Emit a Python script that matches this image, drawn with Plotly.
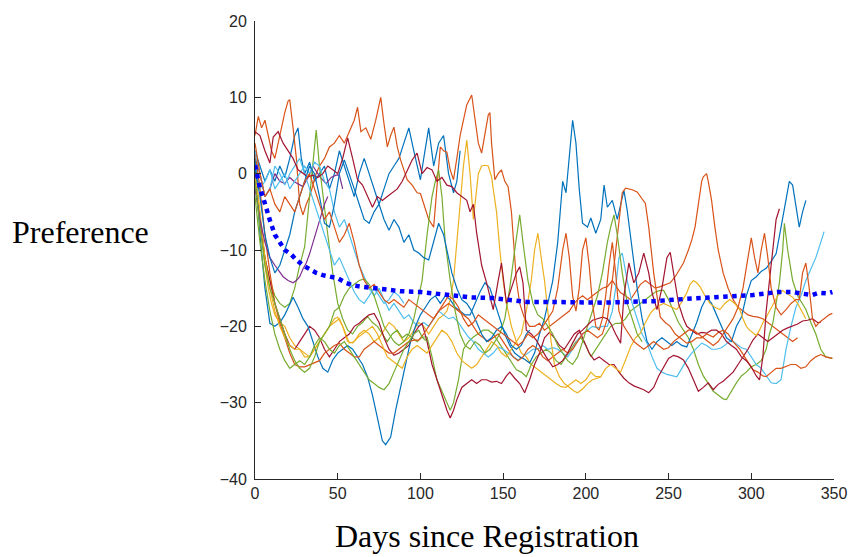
import plotly.graph_objects as go

# MATLAB-style default line colour order
C_BLUE, C_ORANGE, C_YELLOW = "#0072BD", "#D95319", "#EDB120"
C_PURPLE, C_GREEN, C_CYAN, C_MAROON = "#7E2F8E", "#77AC30", "#4DBEEE", "#A2142F"

x_ticks = [0, 50, 100, 150, 200, 250, 300, 350]
y_ticks = [-40, -30, -20, -10, 0, 10, 20]

# Per-user preference trajectories: (day since registration, preference)
user_b1 = [(0, 3), (3, 1), (6, -1), (9, 0.5), (12, -1), (15, 1), (18, -0.5), (21, 2), (24, 5), (26, 6),
           (28, 2), (30, 0), (33, 1.5), (36, -1), (39, 0), (42, 1), (45, -2), (48, 0), (51, 3), (54, 1),
           (57, -1), (60, -3), (63, 0), (66, 2), (69, 0), (72, -2), (75, -4), (78, -2), (81, 0), (84, 1),
           (87, 2), (90, 4), (93, 6), (96, 3), (99, 0), (100, -0.8), (102, 2), (105, 6), (108, 1), (111, 4),
           (114, 5), (117, 0), (120, -2.5), (122, -1), (124, 3)]

user_b2 = [(0, 2), (3, -8), (6, -15), (9, -19.6), (12, -20), (15, -19.5), (18, -18.5), (21, -17), (23, -16.2),
           (26, -17.5), (29, -19), (32, -20), (35, -22), (38, -24), (41, -25.5), (44, -26), (47, -24.4), (50, -23.5),
           (53, -23), (56, -22.5), (59, -23), (62, -24), (65, -25), (68, -26.6), (71, -29), (74, -32), (77, -35),
           (79, -35.5), (82, -34.5), (85, -31), (88, -28), (91, -25), (94, -22), (97, -20), (100, -18.5),
           (103, -17.5), (106, -16.5), (109, -16), (112, -17), (115, -16), (118, -16.5), (121, -17.5), (124, -18),
           (127, -18.5), (130, -18.5), (133, -17), (136, -15.5), (139, -14.3), (142, -15), (145, -17), (148, -19),
           (151, -21), (154, -22.5), (157, -23.5), (160, -24), (163, -24.3), (166, -24.8), (169, -23.5), (172, -21),
           (175, -19), (178, -16), (180, -14), (183, -9), (186, -1), (188, -2.5), (190, 2), (192, 7), (194, 4),
           (196, -2), (198, -6.5), (201, -7), (203, -5.8), (206, -7.8), (209, -6), (211, -1.5), (213, -4.4),
           (216, -3.5), (219, -6), (222, -3), (223, -2.2), (225, -4.8), (228, -10), (231, -15), (234, -19),
           (237, -22), (240, -23), (243, -22), (246, -21.5), (249, -22), (252, -22.5), (255, -22), (258, -22.5),
           (261, -22.7), (264, -21), (267, -19.5), (270, -17.5), (273, -16.2), (276, -17), (279, -18.5), (282, -20),
           (285, -21.5), (288, -22), (291, -20), (294, -18.8), (297, -16), (300, -14), (303, -13.5), (306, -12.8),
           (309, -12.4), (312, -11.5), (315, -10.5), (318, -7), (321, -3.5), (323, -1), (325, -1.5), (327, -4),
           (329, -7), (331, -5), (333, -3.5)]

user_b3 = [(0, 1), (3, -3), (6, -8), (9, -11), (12, -13), (15, -12), (18, -10), (21, -8), (24, -5), (27, -3),
           (30, -1), (33, 1), (36, 0), (39, -3), (42, -6.5), (45, -7), (48, -4), (51, 0), (54, 1.8), (57, 0),
           (60, -2), (63, -4), (66, -6), (69, -6.5), (72, -5), (75, -4), (78, -6), (81, -7.4), (84, -6), (87, -7),
           (90, -9), (93, -8), (96, -10), (99, -10.4), (102, -11), (105, -11.3), (108, -9), (111, -6.5), (114, -8),
           (116, -10), (119, -13), (122, -15), (125, -16.5), (128, -17), (131, -18), (134, -19.5), (137, -21),
           (140, -22), (143, -21.5), (146, -20.5), (149, -20), (152, -21), (155, -22.5), (158, -23), (161, -22.5),
           (164, -21), (166, -20.5)]

user_o1 = [(0, 5), (2, 7.5), (4, 6), (6, 7), (8, 5), (10, 3), (12, 2), (14, 4), (16, 6), (18, 8), (20, 9.5),
           (21, 9.7), (23, 6), (25, 2), (27, -4), (29, -5.4), (31, -4), (33, -3), (35, -1.5), (37, 0), (39, 1),
           (42, 2), (45, 3.5), (48, 4), (51, 5), (54, 4), (57, 5.5), (60, 7), (62, 8.7), (64, 5.5), (67, 6),
           (70, 4.5), (73, 7), (75, 9), (76, 10), (78, 6.5), (80, 3.5), (82, 5), (84, 6.1), (86, 3.5), (88, 1.8),
           (90, 0.5), (92, -0.8), (95, -1.5), (98, -2.5), (100, -2.6), (102, -4), (105, -6), (108, -7), (110, -2),
           (112, 3.5), (114, 3), (116, 2.8), (118, 0.5), (120, -0.8), (122, 2), (124, 5), (126, 7), (128, 9),
           (131, 10.3), (133, 7), (135, 4), (137, 2.7), (139, 5), (141, 7.7), (142, 8), (143, 4), (145, -0.8),
           (147, 0), (149, 0.5), (151, -1), (153, -1.7), (155, -5), (158, -14), (160, -17), (163, -19), (166, -20),
           (169, -20), (172, -19.6), (175, -20.5), (178, -20), (181, -19.5), (184, -19), (187, -18.5), (190, -18),
           (193, -17), (195, -16.5), (198, -16), (201, -16.5), (204, -16), (207, -15.5), (210, -15), (213, -14.8),
           (216, -14), (219, -15), (221, -15.6), (224, -16), (227, -16.5), (230, -15.5), (233, -14.5), (236, -14),
           (239, -14.5), (242, -15), (245, -14.8), (248, -14.5), (251, -14.3), (254, -13.5), (257, -12.5),
           (259, -11.7), (262, -10), (264, -8.7), (266, -7), (268, -4), (270, -1), (271, -0.4), (273, 0), (274, -1),
           (276, -3.5), (278, -7), (280, -10), (283, -13), (286, -15), (289, -16.5), (292, -17.5), (295, -18),
           (298, -18.5), (301, -18.7), (304, -18.8), (307, -19), (310, -19.5), (313, -20), (316, -20.5), (319, -21),
           (322, -21.5), (325, -22), (328, -21.5)]

user_o2 = [(0, 3), (3, -2), (6, -8), (9, -13), (12, -17), (15, -19.6), (18, -21.5), (21, -23.5), (24, -25),
           (27, -25.3), (30, -25.3), (33, -25), (36, -24.8), (39, -24.5), (42, -23.5), (45, -23), (48, -22.5),
           (51, -22.2), (54, -23), (57, -23.5), (60, -24), (63, -24), (66, -23), (69, -22.5), (72, -22), (75, -22.5),
           (78, -23), (81, -23.5), (84, -23.5), (87, -23), (90, -22.5), (93, -22), (96, -21.8), (99, -21.8),
           (102, -21), (105, -20), (108, -19), (111, -18), (114, -17.5), (117, -17), (120, -17.5), (123, -18),
           (126, -18.5), (129, -19), (132, -20), (135, -21), (138, -21.5), (141, -22), (144, -21.5), (147, -21),
           (150, -22), (153, -23), (156, -24), (159, -24.5), (162, -24), (165, -23), (168, -22.5), (171, -23),
           (174, -24), (177, -24.5), (180, -24), (183, -23.5), (186, -23), (189, -23.5), (192, -23), (195, -22),
           (198, -21), (201, -20.5), (204, -21), (207, -21.5), (210, -21), (213, -19), (216, -14), (218, -10),
           (220, -6), (222, -2.5), (224, -1.9), (226, -2), (228, -2.1), (231, -2.4), (233, -3), (235, -3.5),
           (236, -3.9), (238, -7), (239, -9), (241, -13), (243, -16), (245, -18.8), (248, -19.5), (251, -20),
           (254, -21), (257, -21.5), (261, -22.2), (264, -22), (267, -21.5), (270, -21.5), (273, -21), (277, -21.4),
           (280, -20.8), (283, -20.5), (286, -21), (289, -22), (293, -23), (296, -24), (299, -25), (301, -25.7),
           (304, -26), (307, -26.5), (309, -26.6), (312, -26), (315, -25.5), (318, -25.5), (321, -25.3), (324, -25),
           (327, -25), (330, -25.5), (333, -25.3), (336, -24.5), (339, -24), (342, -23.7), (345, -24), (349, -24.2)]

user_o3 = [(0, 4), (3, 0), (6, -3), (9, -2), (12, -4), (15, -5), (18, -3), (21, -4), (24, -5), (27, -3), (30, -1),
           (33, 0), (36, -2), (39, -4), (42, -6), (45, -5), (48, -7), (51, -9), (54, -8), (57, -6.5), (60, -9),
           (63, -12), (66, -14), (69, -15), (72, -14.5), (75, -15.5), (78, -16.5), (81, -17), (84, -16.5), (87, -17),
           (90, -17.5), (93, -16.5), (96, -17), (99, -17.4), (102, -18), (105, -18.5), (108, -19), (111, -18),
           (114, -17), (117, -16), (120, -16.5), (123, -17.5), (126, -19), (129, -20), (132, -19.5), (135, -18.5),
           (138, -19), (141, -19.5), (144, -20), (147, -20.5), (150, -21), (153, -21.5), (156, -22), (159, -22.5),
           (162, -22), (165, -21), (168, -21.5), (171, -21), (174, -20), (177, -19), (180, -18), (183, -15),
           (186, -10), (188, -7.8), (190, -11), (192, -16), (194, -18), (196, -15), (198, -10), (200, -8.4),
           (202, -12), (204, -17), (206, -20), (208, -20.5), (210, -19), (212, -16), (214, -12), (216, -9), (218, -13),
           (220, -18), (223, -20), (226, -21), (229, -22), (232, -22.5), (235, -23), (238, -22.5), (241, -22),
           (244, -22.5), (247, -23), (250, -22.8), (253, -22), (256, -21.5), (259, -21), (262, -20.5), (265, -20.5),
           (268, -21), (271, -21.5), (274, -22), (277, -22.5), (280, -22), (283, -21), (286, -20), (289, -19),
           (292, -17.5), (295, -15), (298, -11), (300, -8.4), (302, -11), (304, -13), (306, -10), (308, -7.8),
           (310, -11), (312, -15), (315, -17.5), (318, -18.5), (321, -17.8), (324, -17), (327, -16.5), (329, -16.5),
           (331, -13), (333, -11.7), (335, -15), (337, -19), (339, -20), (341, -19.5), (344, -19), (347, -18.5),
           (349, -18.3)]

user_y1 = [(0, 1), (2, -3), (4, -8), (6, -12), (8, -15), (10, -17), (12, -18.5), (15, -19.5), (18, -20),
           (21, -21.5), (24, -22.5), (27, -23), (30, -23.5), (33, -24), (36, -23), (39, -22), (42, -21), (45, -20),
           (48, -19.5), (51, -19), (54, -20.5), (57, -22.2), (60, -22), (63, -21), (66, -20.5), (69, -21), (72, -22),
           (75, -21.5), (78, -20.5), (81, -19.5), (84, -20), (87, -21), (90, -22), (93, -21.5), (96, -20.5),
           (99, -19.5), (102, -20), (105, -21), (108, -20), (111, -19), (114, -18.5), (116, -18), (118, -16.5),
           (120, -14), (122, -9), (124, -4), (126, 1), (128, 4.4), (130, 0), (132, -6), (134, -2), (135, 0),
           (137, 1), (139, 1.1), (141, 1), (143, -0.4), (144, -2), (146, -5), (148, -10), (150, -14), (152, -17),
           (155, -20), (158, -22), (161, -23.5), (164, -24), (167, -25), (170, -25.5), (173, -26), (176, -26.6),
           (179, -27), (182, -27.5), (185, -27.9), (188, -28), (191, -27.5), (194, -27), (197, -27.5), (200, -27),
           (203, -26), (206, -26.6), (209, -26.6)]

user_y2 = [(0, 0), (3, -5), (6, -11), (9, -15), (12, -18), (15, -20), (18, -21.5), (21, -22.5), (24, -23),
           (27, -23), (30, -24), (33, -24), (36, -23), (39, -22), (42, -21), (45, -20), (48, -19), (50, -18.8),
           (53, -20), (56, -22), (59, -22.2), (62, -21.5), (65, -21), (68, -20.5), (71, -20), (74, -21), (77, -22.5),
           (80, -24), (83, -24.5), (86, -25), (89, -25.5), (92, -24), (95, -23), (98, -22.5), (101, -23),
           (104, -23.5), (107, -22.5), (110, -21.5), (113, -20.5), (116, -21), (119, -22), (122, -23.5), (125, -24.5),
           (128, -25), (131, -25.5), (134, -25), (137, -24), (140, -23), (143, -22), (146, -22.5), (149, -23.5),
           (152, -24), (155, -23), (158, -22), (161, -21), (164, -18), (167, -14), (169, -10), (171, -7.8),
           (173, -11), (175, -14), (177, -18), (179, -22), (181, -25), (184, -26.6), (187, -27.5), (190, -28),
           (193, -28.5), (195, -28.7), (198, -28.2), (201, -27.5), (204, -27), (207, -26.8), (209, -26.6),
           (212, -25.5), (215, -25), (218, -25.5), (221, -26), (224, -24.4), (227, -22.7), (230, -21.5),
           (233, -20.9), (236, -19.5), (239, -18.3), (241, -17.8), (244, -17.3), (247, -17), (250, -17.3),
           (253, -17.6), (255, -17.8), (258, -16.8), (261, -15.6), (263, -14.5), (265, -14), (267, -14.3),
           (269, -14.8), (272, -16), (275, -17), (278, -17.5), (281, -17.8), (284, -17), (287, -16.5), (290, -17),
           (293, -17.8), (295, -19), (297, -20), (299, -20.5), (301, -20.9), (303, -21.2), (305, -20.5),
           (307, -19.5), (309, -18.8), (311, -18), (313, -17), (316, -16), (319, -15.3), (322, -15.8), (325, -16.2),
           (328, -17), (331, -18.3), (333, -19)]

user_p1 = [(0, 2), (3, 0), (6, -3), (9, -2), (12, 0), (15, -1), (18, -1.3), (21, -0.5), (24, -1.1), (27, -1.5),
           (29, -1.7), (32, -0.5), (35, 1), (38, 0), (40, -0.6), (43, -1.3), (46, -0.5), (49, -0.2), (51, -0.2),
           (53, -2)]

user_p2 = [(0, -2), (3, -6), (6, -9), (9, -11), (12, -12), (15, -13), (17, -13.5), (20, -14), (23, -14.3),
           (25, -14), (27, -13.5), (29, -12.5), (31, -11.7), (33, -10.5), (35, -9), (38, -7), (40, -5.6), (42, -4),
           (44, -3)]

user_g1 = [(0, 0), (3, -6), (6, -11), (9, -14), (12, -16), (15, -17), (18, -17.5), (21, -17), (24, -15),
           (27, -12), (30, -9.6), (33, -3), (35, 2), (37, 5.7), (39, 0.9), (41, -3), (44, -8), (47, -13), (50, -17),
           (53, -19), (56, -20.5), (59, -21), (62, -20), (65, -19.5), (68, -18.7), (71, -19.5), (74, -20), (77, -21),
           (80, -22), (83, -21), (86, -20.5), (89, -21.5), (92, -21), (95, -21.5), (98, -22), (101, -21.4),
           (104, -21.4), (107, -24), (110, -27), (113, -28.5), (116, -30), (118, -31), (120, -30), (123, -27),
           (126, -23), (129, -22), (132, -21.4), (135, -21), (138, -20.5), (141, -20.5), (144, -21), (147, -22),
           (150, -23), (153, -24), (156, -25), (158, -25.7), (161, -26), (164, -26.6), (167, -25), (170, -24),
           (173, -23.5), (176, -23), (179, -23.5), (182, -24.5), (185, -25), (188, -24), (191, -23), (194, -22),
           (197, -21.5), (200, -22.5), (203, -24), (206, -23), (209, -22), (212, -21), (215, -20), (218, -19.6),
           (221, -19.6), (224, -19), (227, -18), (230, -17.5), (233, -17), (236, -16.5), (239, -16), (242, -15.5),
           (245, -15.3), (247, -15.3), (250, -16.5), (253, -18), (256, -19.5), (259, -20.5), (262, -21.5),
           (265, -23), (268, -25), (271, -26.5), (274, -27.5), (277, -28.5), (280, -29), (283, -29.5), (285, -29.6),
           (288, -28.5), (291, -27.4), (294, -26.5), (297, -26), (300, -25.3), (303, -25), (306, -24.5), (309, -23),
           (311, -21), (313, -19.6), (315, -17), (317, -14.3), (319, -10), (320, -6.5), (322, -10), (325, -14),
           (328, -16), (331, -17), (333, -17.8), (336, -19.5), (339, -21), (342, -23), (345, -24), (349, -24.2)]

user_g2 = [(0, -1), (3, -7), (6, -12), (9, -15), (12, -17), (15, -19), (18, -21), (21, -23), (24, -24.5),
           (27, -25.5), (30, -26), (33, -25.5), (36, -24), (39, -22), (42, -21), (45, -20), (48, -18), (51, -17.5),
           (54, -16), (57, -15), (60, -14.5), (63, -14), (66, -13.8), (69, -14.5), (72, -16), (75, -18), (78, -20),
           (81, -21), (84, -22), (87, -22.5), (90, -22), (93, -21), (96, -19), (99, -16), (101, -14), (104, -8),
           (107, -3), (109, -1), (111, 0.5), (113, -3), (115, -9), (118, -14), (121, -18), (124, -21), (127, -22.5),
           (130, -23), (133, -22), (136, -22.5), (139, -23.5), (142, -23), (145, -22), (148, -21), (151, -19),
           (154, -15), (157, -10), (160, -5.4), (162, -9), (165, -14), (168, -17), (171, -18.5), (174, -19),
           (177, -20), (180, -21), (183, -22.5), (186, -23.5), (189, -24.5), (192, -25), (195, -24), (198, -22),
           (201, -20), (204, -18), (207, -16), (210, -13), (213, -9), (215, -7), (217, -5.4), (219, -8), (222, -13),
           (225, -17), (228, -19), (231, -21), (234, -22)]

user_g3 = [(0, -3), (3, -9), (6, -14), (9, -18), (12, -21), (15, -23), (18, -24.5), (21, -25.5), (24, -25),
           (27, -24.5), (30, -25), (33, -24), (36, -22.5), (39, -21.5), (42, -22), (45, -23), (48, -23.5),
           (51, -22.5), (54, -22), (57, -23), (60, -24), (63, -25), (66, -26), (69, -27), (72, -27.5), (75, -28),
           (78, -28.3), (81, -27.5), (84, -26), (87, -24.5), (90, -23), (93, -22), (96, -21), (99, -20.5),
           (101, -21.4), (104, -22)]

user_c1 = [(0, 2), (3, -2), (6, -1), (9, 0.5), (12, -2), (15, -1), (18, 0), (21, -2), (24, -1), (27, 0), (30, 1),
           (33, 0), (36, 1.5), (39, 1), (42, -1), (45, -2), (48, -5), (51, -7), (54, -6), (57, -8), (60, -10),
           (63, -12), (66, -13.5), (69, -15), (72, -16), (75, -15), (78, -16.5), (81, -17.9), (84, -17), (87, -18),
           (90, -19), (93, -18.5), (96, -19.5), (99, -20), (102, -19.5), (105, -20), (108, -19), (111, -18),
           (114, -18.5), (117, -19), (120, -18.8), (123, -19.5), (126, -20.5), (129, -21.4), (132, -22), (135, -23),
           (138, -23.5), (141, -24), (144, -23.5), (147, -22.7), (150, -23), (153, -23.5), (156, -24), (159, -24.4),
           (162, -24), (165, -23.5), (168, -23), (171, -23), (174, -22.5), (177, -23), (180, -22.8), (183, -23),
           (186, -23.5), (189, -24), (192, -23), (195, -21.8), (198, -21), (201, -20.5), (204, -20), (207, -20.2),
           (210, -20), (213, -20), (216, -18), (218, -15), (220, -11), (222, -10.4), (225, -14), (228, -17),
           (231, -19), (234, -21), (237, -22.2), (240, -24), (243, -25.5), (246, -26), (249, -26.3), (252, -26.5),
           (255, -26.6), (258, -25.5), (261, -24.4), (264, -23.5), (267, -22.8), (270, -22.2), (273, -22.5),
           (276, -23), (279, -23), (282, -22.8), (285, -22.3), (288, -21.8), (291, -22.3), (294, -22.8), (297, -23),
           (300, -24), (303, -25), (306, -25.5), (309, -26.5), (312, -27.4), (315, -27.5), (318, -27), (321, -23),
           (324, -20), (327, -17.5), (330, -16), (333, -14), (336, -12.5), (339, -11), (342, -9), (344, -7.6)]

user_c2 = [(0, 3), (3, 0), (6, -3), (9, -2), (12, 1), (15, 0), (18, -1.5), (21, 0), (24, 1), (27, 2), (30, 0),
           (33, -2), (36, -4), (39, -6), (42, -8), (45, -10), (48, -12), (51, -11), (54, -12.5), (57, -14),
           (60, -15.5), (63, -16.5), (66, -17), (69, -16), (72, -15), (75, -16), (78, -17), (81, -16.5), (84, -15.5),
           (87, -16), (90, -17)]

user_m1 = [(0, -1), (3, -6), (6, -11), (9, -14), (12, -17), (15, -19), (18, -21), (21, -22.5), (24, -23),
           (27, -22), (30, -21), (33, -20), (36, -20.5), (39, -21.5), (42, -23), (45, -24), (48, -23), (51, -22),
           (54, -21.5), (57, -21), (60, -20), (63, -19.6), (66, -19), (69, -18.5), (72, -18.3), (75, -19.5),
           (78, -21.5), (81, -23), (84, -23.8), (87, -23.5), (90, -23), (93, -22.5), (96, -21), (99, -20),
           (101, -19.6), (104, -22), (107, -25), (110, -27), (113, -29), (116, -31), (118, -32), (120, -31),
           (122, -29.6), (125, -28), (128, -27.5), (131, -27), (134, -27.5), (137, -27), (140, -27), (143, -27.3),
           (146, -27.2), (149, -27.5), (152, -26.5), (154, -26), (157, -26.8), (160, -27.5), (163, -28.7),
           (166, -27), (169, -25), (172, -23.5), (175, -21.5), (178, -20.8), (181, -21.5), (184, -22.5), (187, -23),
           (190, -22), (193, -21), (196, -20.5), (199, -22), (202, -23.5), (205, -24.4), (208, -24), (211, -24.5),
           (214, -25), (217, -25), (220, -26), (223, -26.8), (226, -27.4), (229, -27.8), (232, -28), (235, -28.3),
           (238, -28.7), (241, -28), (244, -26.5), (247, -25.3), (250, -24.2), (253, -23.8), (256, -24),
           (259, -24.4), (262, -25.5), (265, -27), (268, -28.5), (271, -28), (274, -27.4), (277, -28.3),
           (280, -27.6), (283, -27.2), (286, -26.6), (289, -26), (292, -25), (295, -24), (298, -23), (301, -21.8),
           (304, -21), (307, -21.5), (310, -22), (313, -21.5), (316, -21), (319, -20.5), (322, -20.2), (325, -20),
           (328, -19.7), (331, -19.3), (334, -19.2), (337, -19), (340, -19.5), (342, -19.5)]

user_m2 = [(0, 5.5), (3, 5), (6, 3), (9, 1.4), (11, 4.8), (14, 5.5), (17, 4), (20, 3), (23, 2), (26, 0.5), (29, 0),
           (32, -0.4), (35, -0.2), (38, -0.5), (41, 0), (44, 1), (47, 0.5), (50, 0), (53, 2), (56, 4.7), (59, 2),
           (62, -0.8), (65, -1.5), (68, -3), (71, -4.4), (74, -3), (77, -3.5), (80, -3), (83, -2.5), (86, -2),
           (89, -1), (92, 0.5), (95, 1.8), (98, 2.7), (101, 0), (104, 0.8), (107, 0.5), (110, -1), (113, -0.5),
           (116, -1.5), (119, -1.7), (122, -2.5), (125, -3), (128, -3.5), (130, -5), (132, -4), (134, -7.8),
           (137, -12), (140, -14.3), (144, -17.8), (147, -14), (149, -11.7), (152, -17), (155, -15), (158, -13),
           (160, -12.2), (162, -14.3), (164, -20.5), (167, -21), (170, -21.8), (173, -23), (176, -24), (180, -25.3),
           (183, -25), (186, -24.5), (189, -23.5), (192, -22.2), (195, -21), (198, -20.5), (201, -19.8),
           (204, -19.2), (207, -19), (210, -18.8), (213, -19), (215, -19.6), (218, -21), (221, -22.2), (223, -16),
           (226, -11.7), (229, -14.3), (232, -13), (235, -10.4), (238, -13), (240, -15.6), (243, -17.8), (246, -15),
           (249, -11), (251, -10.3), (254, -14), (256, -17), (259, -19), (261, -20), (264, -20.5), (267, -21),
           (270, -20.8), (273, -20.9), (276, -20.5), (279, -20.5), (282, -21), (285, -22), (288, -22.5), (291, -23),
           (294, -24), (297, -24.5), (300, -25.3), (303, -26.5), (305, -27), (307, -24), (309, -18), (311, -14),
           (313, -10.4), (315, -6), (317, -4.6)]

# Average preference across all users
mean_days = [0, 1, 3, 5, 7, 9, 12, 15, 18, 22, 25, 29, 32, 37, 41, 46, 50, 55, 59, 64, 73, 76, 88, 100, 104,
             118, 130, 144, 154, 164, 176, 190, 210, 225, 241, 261, 281, 301, 316, 325, 330, 337, 341, 346, 349]
mean_pref = [1.1, 0.1, -1.9, -3.2, -4.8, -6.1, -8.0, -9.1, -10.0, -10.6, -11.3, -12.0, -12.4, -13.0, -13.3,
             -13.5, -13.7, -14.3, -14.6, -14.8, -15.0, -15.0, -15.4, -15.5, -15.6, -15.9, -16.2, -16.3, -16.6,
             -16.8, -16.8, -16.9, -16.9, -16.8, -16.7, -16.4, -16.1, -15.9, -15.5, -15.5, -15.7, -15.9, -15.6,
             -15.7, -15.5]

users = [
    (user_b1, C_BLUE), (user_o1, C_ORANGE), (user_y1, C_YELLOW), (user_p1, C_PURPLE), (user_g1, C_GREEN),
    (user_c1, C_CYAN), (user_m1, C_MAROON), (user_b2, C_BLUE), (user_o2, C_ORANGE), (user_y2, C_YELLOW),
    (user_p2, C_PURPLE), (user_g2, C_GREEN), (user_c2, C_CYAN), (user_m2, C_MAROON), (user_b3, C_BLUE),
    (user_o3, C_ORANGE), (user_g3, C_GREEN),
]

fig = go.Figure()
for series, color in users:
    fig.add_trace(go.Scatter(
        x=[d for d, _ in series], y=[v for _, v in series], mode="lines",
        line=dict(color=color, width=1.2), showlegend=False, hoverinfo="skip",
    ))

fig.add_trace(go.Scatter(
    x=mean_days, y=mean_pref, mode="lines",
    line=dict(color="#0000FF", width=4.5, dash="dot"), showlegend=False,
))

axis_common = dict(
    showline=True, linecolor="#262626", linewidth=1, mirror=False,
    ticks="inside", ticklen=6, tickcolor="#262626", tickwidth=1,
    showgrid=False, zeroline=False, automargin=False,
    tickfont=dict(family="Liberation Sans, Arial, sans-serif", size=16, color="#262626"),
)

fig.update_layout(
    width=852, height=557,
    margin=dict(l=255, r=18, t=21, b=78),
    paper_bgcolor="white", plot_bgcolor="white",
    xaxis=dict(range=[0, 350], tickvals=x_ticks, **axis_common),
    yaxis=dict(range=[-40, 20], tickvals=y_ticks, ticklabelstandoff=4, **axis_common),
    annotations=[
        dict(text="Preference", xref="paper", yref="paper", x=-0.302, y=0.539,
             showarrow=False, xanchor="center", yanchor="middle",
             font=dict(family="Liberation Serif, Times New Roman, serif", size=32, color="black")),
        dict(text="Days since Registration", xref="paper", yref="paper", x=0.401, y=-0.125,
             showarrow=False, xanchor="center", yanchor="middle",
             font=dict(family="Liberation Serif, Times New Roman, serif", size=32, color="black")),
    ],
)

fig.write_html("out.html")
